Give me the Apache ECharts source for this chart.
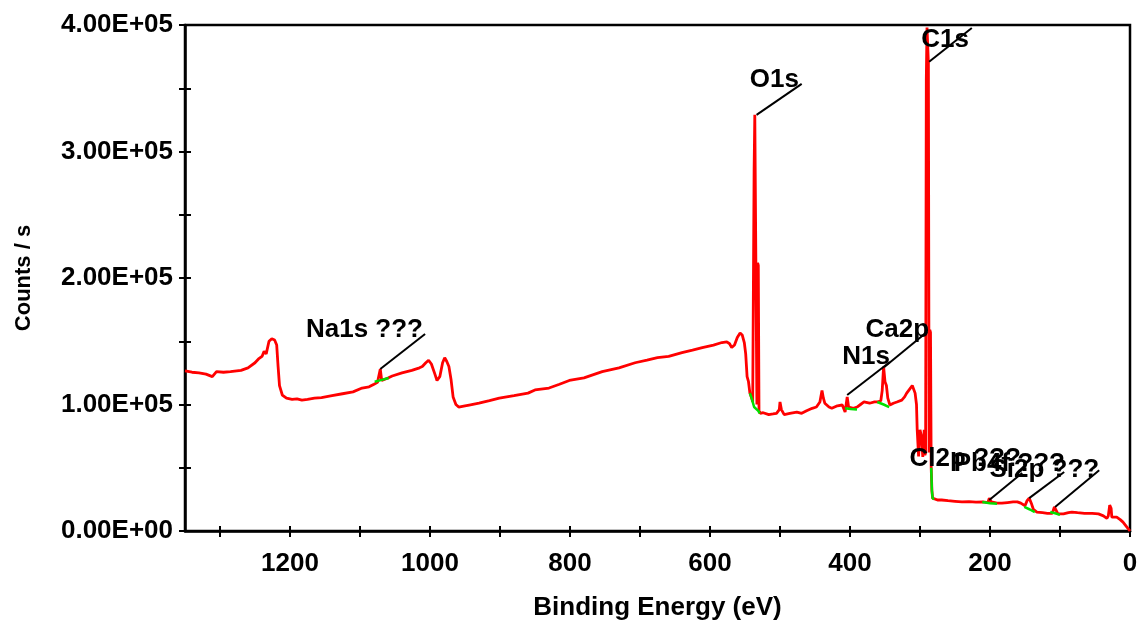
<!DOCTYPE html>
<html>
<head>
<meta charset="utf-8">
<script src="https://cdn.jsdelivr.net/npm/echarts@6/dist/echarts.min.js"></script>
<style>
  html, body { margin: 0; padding: 0; background: #fff; }
  #chart { width: 1138px; height: 622px; }
</style>
</head>
<body>
<div id="chart"></div>
<script>
// survey spectrum, binding energy (eV) vs counts/s
const energy = [
  1350, 1340, 1330, 1320, 1311, 1305, 1295, 1285, 1270, 1260, 1250, 1245, 1240, 1237, 1234, 1230, 1226, 1222, 1219, 1217,
  1215, 1211, 1205, 1197, 1190, 1183, 1175, 1165, 1155, 1140, 1125, 1110, 1097, 1087, 1080, 1075, 1073, 1071, 1069, 1060,
  1054, 1040, 1026, 1015, 1011, 1006, 1002, 998, 993, 990, 986, 982, 979, 976, 973, 970, 967, 963, 959, 950,
  944, 930, 915, 901, 880, 860, 850, 830, 815, 801, 780, 754, 730, 707, 690, 675, 659, 640, 625, 611,
  595, 583, 576, 572, 569, 565, 561, 557, 554, 551, 549, 547, 545, 543, 541, 539, 537, 536, 535, 534,
  533, 532, 531, 530, 528, 524, 516, 510, 505, 501, 500, 498, 494, 486, 476, 469, 462, 454, 448, 443,
  440, 438, 436, 430, 426, 418, 411, 407, 404, 402, 395, 390, 385, 380, 372, 365, 361, 356, 354, 352,
  350, 348, 346, 343, 338, 333, 326, 322, 319, 315, 311, 309, 307, 305, 304, 302, 301, 300, 298, 296,
  295, 294, 293, 292, 291, 290, 289, 288, 287, 286, 285, 284, 283, 282, 280, 275, 269, 260, 250, 240,
  230, 220, 210, 203, 201, 198, 190, 183, 175, 167, 161, 156, 154, 150, 147, 144, 141, 138, 133, 125,
  118, 111, 108, 106, 103, 101, 95, 88, 83, 75, 65, 54, 45, 38, 33, 31, 29, 27, 26, 19,
  14, 10, 5, 0
];
const counts = [
  126500, 125500, 125000, 124000, 122000, 126000, 125500, 126000, 127000, 129000, 133000, 136000, 138000, 142000, 140000, 150000, 152000, 151000, 147000, 130000,
  115000, 107500, 105000, 104000, 104500, 103500, 104000, 105000, 105500, 107000, 108500, 110000, 113000, 114000, 116000, 117500, 118000, 128000, 119000, 121000,
  122500, 125000, 127000, 129000, 130000, 133000, 135000, 132000, 124000, 119000, 122000, 133000, 137000, 134000, 130000, 120000, 106000, 100000, 98000, 99000,
  99600, 101000, 103000, 105000, 107000, 109000, 111500, 113000, 116000, 119000, 121000, 126000, 129000, 133000, 135000, 137000, 138000, 141000, 143000, 145000,
  147000, 149000, 149500, 148000, 145000, 147000, 153000, 156500, 155000, 149000, 140000, 122000, 118000, 109000, 106000, 102000, 285000, 329000, 329000, 328000,
  100000, 212000, 210000, 95000, 93000, 93500, 92000, 92500, 93000, 96000, 102000, 96000, 92000, 93000, 94000, 93000, 95000, 97000, 98000, 102000,
  111000, 105000, 101000, 98000, 97000, 99000, 99600, 94000, 106000, 98000, 97000, 98000, 100000, 102000, 101000, 102000, 102000, 103000, 111000, 130000,
  118000, 115000, 105000, 99600, 101000, 102000, 103500, 106000, 109000, 112000, 115000, 114000, 109000, 100000, 80000, 59000, 70000, 80000, 75000, 58500,
  59000, 80000, 60000, 62000, 357000, 398000, 397000, 370000, 62000, 159000, 157000, 50000, 32000, 26000, 25000, 24500, 24500, 24000, 23500, 23000,
  23200, 22800, 23000, 22500, 26000, 23000, 22000, 22000, 22500, 23000, 23000, 22000, 20500, 20000, 24000, 26000, 22000, 17000, 15000, 14500,
  14000, 14000, 19000, 18000, 13500, 12700, 13500, 14500, 15000, 14500, 14000, 14000, 13500, 12000, 10000, 12000, 20500, 18000, 11000, 11000,
  9000, 7000, 3500, 0
];

// fitted background pieces drawn in green
const bgSegments = [
  [[1079, 118000], [1069, 119500], [1059, 121000]],
  [[543, 109000], [540, 104000], [537, 98000], [531, 95000], [529, 93000]],
  [[407, 97000], [399, 96500], [390, 96000]],
  [[361, 102000], [352, 100000], [344, 98000]],
  [[284, 50000], [283, 32000], [282, 26000], [280, 25000]],
  [[211, 23000], [200, 22000], [190, 21500]],
  [[151, 19000], [143, 17000], [136, 15000]],
  [[114, 15000], [107, 14000], [100, 12700]]
];

// peak labels: leader start (on the peak), leader end, text anchor (right edge)
const peakNames = ['Na1s ???', 'O1s', 'N1s', 'Ca2p', 'C1s', 'Cl2p ???', 'Pb4f ???', 'Si2p ???'];
const leaderFrom = [[1071, 128000], [533.5, 329000], [404, 107500], [351, 129600], [287, 371000], [201, 24500], [144, 26000], [107, 19000]];
const leaderTo = [[1007, 155700], [469, 353400], [343, 133600], [290, 157300], [226, 397600], [154, 45800], [94, 46600], [44, 48000]];
const labelAt = [[1010, 159000], [473, 356500], [343, 137500], [287, 159000], [230, 388000], [156, 57000], [93, 53000], [44, 48000]];

const xTicks = { min: 0, max: 1350, interval: 100 };
const yTicks = { min: 0, max: 400000, interval: 50000 };

const font = { fontFamily: 'Liberation Sans', fontWeight: 'bold', color: '#000' };

const chart = echarts.init(document.getElementById('chart'), null, { renderer: 'canvas' });

const series = [];
series.push({
  name: 'spectrum',
  type: 'line',
  data: energy.map((e, i) => [e, counts[i]]),
  showSymbol: false,
  symbol: 'none',
  lineStyle: { color: '#ff0000', width: 2.8 },
  z: 3
});
bgSegments.forEach(seg => {
  series.push({
    type: 'line',
    data: seg,
    symbol: 'none',
    lineStyle: { color: '#00e000', width: 2.5 },
    z: 4
  });
});
peakNames.forEach((n, i) => {
  series.push({
    type: 'line',
    data: [leaderFrom[i], leaderTo[i]],
    symbol: 'none',
    lineStyle: { color: '#000', width: 2 },
    z: 5
  });
});
series.push({
  type: 'scatter',
  data: peakNames.map((n, i) => ({ value: labelAt[i], name: n })),
  symbolSize: 0,
  itemStyle: { color: '#000', opacity: 1 },
  label: {
    show: true,
    position: 'left',
    distance: 0,
    formatter: p => p.name,
    fontSize: 26,
    opacity: 1,
    ...font
  },
  emphasis: { disabled: true },
  z: 6
});

const tickStyle = { color: '#000', width: 2 };

chart.setOption({
  animation: false,
  backgroundColor: '#fff',
  grid: {
    left: 185, right: 8, top: 25, bottom: 91,
    show: true, borderColor: '#000', borderWidth: 2.5,
    containLabel: false, outerBoundsMode: 'none'
  },
  xAxis: [{
    type: 'value',
    position: 'bottom',
    inverse: true,
    ...xTicks,
    name: 'Binding Energy (eV)',
    nameLocation: 'middle',
    nameGap: 64,
    nameTextStyle: { fontSize: 26, ...font },
    axisLine: { show: true, onZero: false, lineStyle: { color: '#000', width: 2.5 } },
    axisTick: { show: true, inside: false, length: 6, lineStyle: tickStyle },
    axisLabel: {
      show: true, margin: 20, fontSize: 26, ...font,
      showMaxLabel: false,
      formatter: v => (v % 200 === 0 ? String(v) : '')
    },
    splitLine: { show: false }
  }, {
    type: 'value',
    position: 'bottom',
    inverse: true,
    ...xTicks,
    axisLine: { show: false, onZero: false },
    axisTick: { show: true, inside: true, length: 5, lineStyle: tickStyle },
    axisLabel: { show: false },
    splitLine: { show: false }
  }],
  yAxis: [{
    type: 'value',
    position: 'left',
    ...yTicks,
    name: 'Counts / s',
    nameLocation: 'middle',
    nameGap: 150,
    nameTextStyle: { fontSize: 22, ...font },
    axisLine: { show: true, onZero: false, lineStyle: { color: '#000', width: 2.5 } },
    axisTick: { show: true, inside: false, length: 6, lineStyle: tickStyle },
    axisLabel: {
      show: true, margin: 12, fontSize: 26, ...font,
      formatter: v => (v % 100000 === 0 ? (v / 100000).toFixed(2) + (v === 0 ? 'E+00' : 'E+05') : '')
    },
    splitLine: { show: false }
  }, {
    type: 'value',
    position: 'left',
    ...yTicks,
    axisLine: { show: false, onZero: false },
    axisTick: { show: true, inside: true, length: 6, lineStyle: tickStyle },
    axisLabel: { show: false },
    splitLine: { show: false }
  }],
  series: series
});
</script>
</body>
</html>
